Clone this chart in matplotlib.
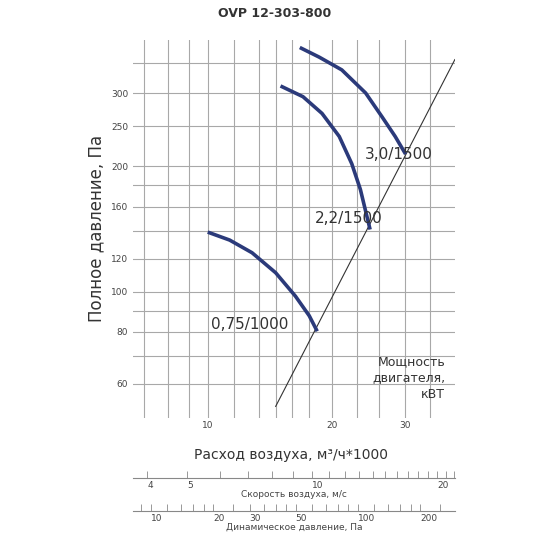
import matplotlib.pyplot as plt
from matplotlib.ticker import FixedLocator, NullLocator, NullFormatter

# curves: flow (m3/h*1000) vs total pressure (Pa)
c075_x = [10.0, 11.3, 12.8, 14.6, 16.3, 17.6, 18.4]
c075_y = [139, 133, 124, 111, 97.5, 87.5, 80.3]
c22_x = [15.0, 17.0, 18.9, 20.8, 22.3, 23.4, 24.7]
c22_y = [312, 294, 268, 236, 203, 176, 141]
c30_x = [16.7, 18.6, 21.1, 24.1, 26.4, 28.4, 30.1]
c30_y = [386, 366, 341, 300, 263, 236, 214]
sys_x = [14.6, 39.6]
sys_y = [53, 361]

xgrid = [7, 8, 9, 10, 11.6, 13.3, 14.6, 16, 17.6, 20, 23, 26, 30, 34.4]
ygrid = [60, 70, 80, 90, 100, 120, 140, 160, 180, 200, 250, 300, 354]
yticks = [60, 80, 100, 120, 160, 200, 250, 300]

speed_ticks = [4, 5, 10, 20]
speed_minor = [6, 7, 8, 9, 11, 12, 13, 14, 15, 16, 17, 18, 19, 21, 22]
dyn_ticks = [10, 20, 30, 50, 100, 200]
dyn_minor = [9, 12, 14, 16, 18, 25, 35, 40, 45, 60, 70, 80, 90, 120, 140, 160, 180, 250]

fig = plt.figure(figsize=(5.5, 5.5), dpi=100)
ax = fig.add_axes([0.242, 0.24, 0.585, 0.687])
ax.set_xscale('log')
ax.set_yscale('log')
ax.set_xlim(6.6, 39.6)
ax.set_ylim(49.7, 402)

for v in xgrid:
    ax.axvline(v, color='#a8a8a8', lw=0.8, zorder=0)
for v in ygrid:
    ax.axhline(v, color='#a8a8a8', lw=0.8, zorder=0)
for s in ax.spines.values():
    s.set_visible(False)

ax.xaxis.set_major_locator(FixedLocator([10, 20, 30]))
ax.xaxis.set_minor_locator(NullLocator())
ax.xaxis.set_minor_formatter(NullFormatter())
ax.set_xticklabels(['10', '20', '30'])
ax.yaxis.set_major_locator(FixedLocator(yticks))
ax.yaxis.set_minor_locator(NullLocator())
ax.yaxis.set_minor_formatter(NullFormatter())
ax.set_yticklabels([str(v) for v in yticks])
ax.tick_params(length=0, labelsize=6.5, colors='#444444')
ax.tick_params(axis='x', pad=2)

ax.plot(sys_x, sys_y, color='#333333', lw=0.8)
for xs, ys in [(c075_x, c075_y), (c22_x, c22_y), (c30_x, c30_y)]:
    ax.plot(xs, ys, color='#2b3a7a', lw=2.6, solid_capstyle='butt',
            solid_joinstyle='round')

ax.text(24.0, 214, '3,0/1500', fontsize=11, color='#333333', va='center')
ax.text(18.2, 150, '2,2/1500', fontsize=11, color='#333333', va='center')
ax.text(10.2, 83.5, '0,75/1000', fontsize=11, color='#333333', va='center')
ax.text(37.5, 62, 'Мощность\nдвигателя,\nкВТ', fontsize=9, color='#333333',
        ha='right', va='center', linespacing=1.3)

fig.text(0.5, 0.975, 'OVP 12-303-800', ha='center', va='center',
         fontsize=9, fontweight='bold', color='#333333')
fig.text(0.53, 0.172, 'Расход воздуха, м³/ч*1000', ha='center', va='center',
         fontsize=10, color='#333333')
fig.text(0.175, 0.585, 'Полное давление, Па', rotation=90, ha='center',
         va='center', fontsize=12, color='#333333')

def scale_axis(ybot, lo, hi, major, minor, label):
    a = fig.add_axes([0.242, ybot, 0.585, 0.0001])
    a.set_xscale('log')
    a.set_xlim(lo, hi)
    a.set_yticks([])
    for k in ['top', 'left', 'right']:
        a.spines[k].set_visible(False)
    a.spines['bottom'].set_color('#888888')
    a.spines['bottom'].set_linewidth(0.8)
    a.xaxis.set_major_locator(FixedLocator(major))
    a.xaxis.set_minor_locator(FixedLocator(minor))
    a.xaxis.set_minor_formatter(NullFormatter())
    a.set_xticklabels([str(v) for v in major], ha='left')
    a.tick_params(axis='x', which='both', direction='in', length=5,
                  width=0.6, colors='#888888', labelsize=6.5, pad=2,
                  labelcolor='#444444')
    a.set_xlabel(label, fontsize=6.5, color='#444444', labelpad=0)
    return a

scale_axis(1 - 478 / 550, 3.7, 22.1, speed_ticks, speed_minor, 'Скорость воздуха, м/с')
scale_axis(1 - 511 / 550, 8.2, 294, dyn_ticks, dyn_minor, 'Динамическое давление, Па')

fig.savefig('out.png', dpi=100)
